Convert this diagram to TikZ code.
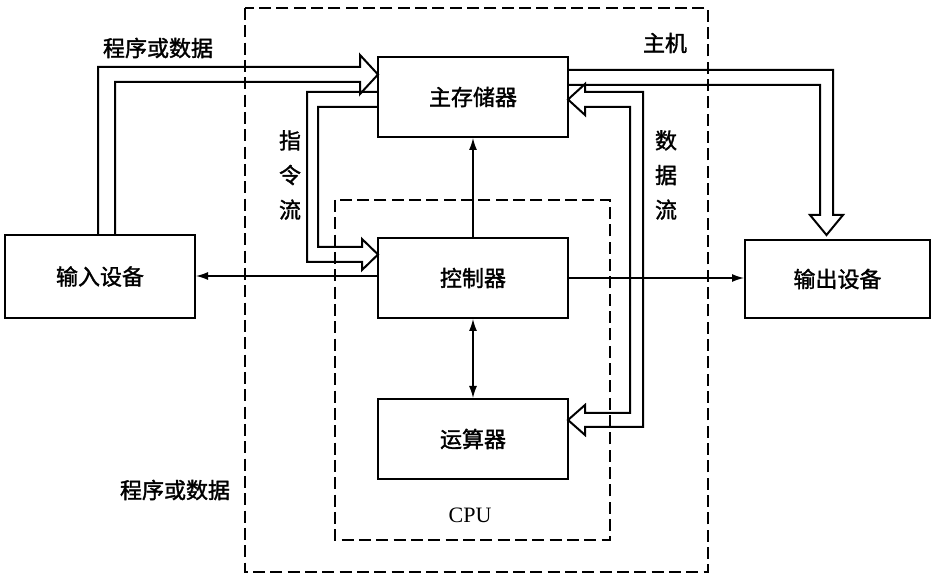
\documentclass[tikz,border=0pt]{standalone}
\usepackage{fontspec}
\setmainfont{Liberation Serif}
\newfontfamily\cjk[FakeBold=1.5]{Noto Sans CJK SC}
\usetikzlibrary{arrows.meta}
\begin{document}
\begin{tikzpicture}[x=0.75pt,y=-0.75pt,line width=1.5pt,
  box/.style={draw,minimum width=142.5pt,minimum height=60pt,font=\cjk\fontsize{16.5}{19}\selectfont,inner sep=0pt},
  lbl/.style={font=\cjk\fontsize{16.5}{26}\selectfont},
  dsh/.style={dash pattern=on 9pt off 4pt,line width=1.1pt},
  ar/.style={-{Latex[length=9pt,width=6pt]},line width=1pt}]
\useasboundingbox (0,0) rectangle (936,580);
\draw[dsh] (245,8) rectangle (708,572);
\draw[dsh] (335,200) rectangle (610,540);
\node[box] (mem) at (473,97) {主存储器};
\node[box] (ctl) at (473,278) {控制器};
\node[box] (alu) at (473,439) {运算器};
\node[box,minimum width=142.5pt,minimum height=62pt] (in) at (100,276.5) {输入设备};
\node[box,minimum width=138.75pt,minimum height=58.5pt] (out) at (837.5,279) {输出设备};
\node[lbl] (t1) at (158,48) {程序或数据};
\node[lbl] (t2) at (665,43) {主机};
\node[lbl] (t3) at (175,490) {程序或数据};
\node[font=\fontsize{16.5}{18}\selectfont] (t4) at (470,515) {CPU};
\node[lbl,align=center] (t5) at (290,175) {指\\令\\流};
\node[lbl,align=center] (t6) at (666,175) {数\\据\\流};
% single arrows
\draw[ar] (ctl.north) -- (mem.south);
\draw[{Latex[length=9pt,width=6pt]}-{Latex[length=9pt,width=6pt]},line width=1pt] (ctl.south) -- (alu.north);
\draw[ar] (ctl.east |- 0,278) -- (out.west |- 0,278);
\draw[ar] (ctl.west |- 0,276) -- (in.east |- 0,276);
% program/data to memory
\draw (98,235) -- (98,67) -- (360,67) -- (360,55) -- (378,74.5) -- (360,94) -- (360,82) -- (115,82) -- (115,235);
% instruction flow
\draw (378,92) -- (307,92) -- (307,262) -- (362,262) -- (362,270) -- (378,254.5) -- (362,239) -- (362,247) -- (318,247) -- (318,107) -- (378,107);
% data flow
\draw (585,92) -- (643,92) -- (643,427) -- (585,427) -- (585,435) -- (568,420) -- (585,405) -- (585,413) -- (630,413) -- (630,107) -- (585,107) -- (585,115) -- (568,99.5) -- (585,84) -- cycle;
% output
\draw (568,70) -- (833,70) -- (833,215) -- (843,215) -- (826.5,235) -- (810,215) -- (820,215) -- (820,85) -- (568,85);
\end{tikzpicture}
\end{document}
